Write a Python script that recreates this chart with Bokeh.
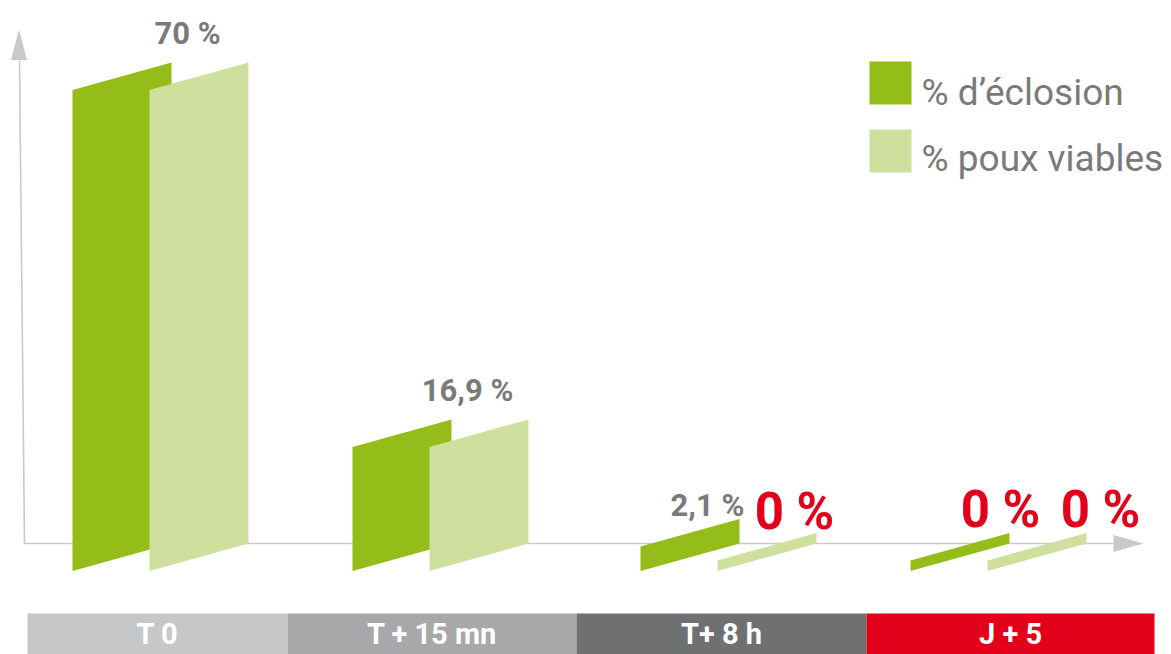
from bokeh.plotting import figure
from bokeh.models import Range1d, ColumnDataSource
from bokeh.core.properties import value
from bokeh.embed import file_html
from bokeh.resources import INLINE

# ---------------- data ----------------
categories = ["T 0", "T + 15 mn", "T+ 8 h", "J + 5"]
eclosion = [70.0, 16.9, 2.1, 0.0]      # % d'éclosion
viables = [70.0, 16.9, 0.0, 0.0]       # % poux viables
series_labels = ["% d\u2019\u00e9closion", "% poux viables"]

# ---------------- style / layout ----------------
W, H = 1171, 654
OX, OY = 0, 0
DARK = "#95bd1a"
LIGHT = "#cfe09e"
BAND_COLORS = ["#c6c7c9", "#a7a8aa", "#6f7072", "#e2001a"]
AXIS_COLOR = "#c8c9cb"
GRAY_TXT = "#7a7a7a"
RED = "#e2001a"
FONT = "Roboto"
DESC = 0.30                 # text placement correction (fraction of font size)

PX_PER_UNIT = 6.72          # pixels per percentage point
ZERO_Y = 560                # page y of value 0 at a bar's left edge
SHEAR = 27.5 / PX_PER_UNIT  # perspective slant of the bars
STUB = 10.5 / PX_PER_UNIT   # visible base under the value 0
BAR_W = 99
GROUP_X = [160, 440, 728, 998]
DARK_DX, LIGHT_DX = -88, -11
BAND_EDGES = [27, 287, 576, 866, 1154]
BAND_TOP = 613

LBL_SIZE, ZERO_SIZE, BAND_SIZE, LEG_SIZE = 31, 51, 29, 37

y_top = (ZERO_Y - OY) / PX_PER_UNIT
y_bot = (ZERO_Y - (OY + H)) / PX_PER_UNIT

p = figure(width=W, height=H, x_range=Range1d(OX, OX + W), y_range=Range1d(y_bot, y_top),
           output_backend="svg", toolbar_location=None, min_border=0,
           x_axis_location=None, y_axis_location=None,
           outline_line_color=None, background_fill_color="white", border_fill_color="white")
p.grid.visible = False
p.extra_y_ranges = {"px": Range1d(OY + H, OY)}

# bottom category bands
centers = [(a + b) / 2 for a, b in zip(BAND_EDGES[:-1], BAND_EDGES[1:])]
p.quad(left=BAND_EDGES[:-1], right=BAND_EDGES[1:], top=BAND_TOP, bottom=OY + H,
       fill_color=BAND_COLORS, line_color=None, y_range_name="px")
p.text(x=centers, y=[642 - DESC * BAND_SIZE] * 4, text=categories, y_range_name="px",
       text_font=value(FONT), text_font_style="bold", text_font_size=f"{BAND_SIZE}px",
       text_color="white", text_align="center", text_baseline="alphabetic")

# axes with arrow heads
ax0x, ax0y = 24, 543
p.line(x=[ax0x, 1113], y=[ax0y, ax0y], y_range_name="px", line_color=AXIS_COLOR, line_width=1.6)
p.line(x=[ax0x, 19], y=[ax0y, 60], y_range_name="px", line_color=AXIS_COLOR, line_width=1.6)
p.patches(xs=[[1143, 1113, 1113], [18.5, 10.5, 26.5]],
          ys=[[ax0y, ax0y - 8.5, ax0y + 8.5], [29, 59.5, 59.5]],
          fill_color=AXIS_COLOR, line_color=None, y_range_name="px")


def bar(x_left, v):
    return ([x_left, x_left, x_left + BAR_W, x_left + BAR_W],
            [-STUB, v, v + SHEAR, -STUB + SHEAR])


for vals, dx, col in ((eclosion, DARK_DX, DARK), (viables, LIGHT_DX, LIGHT)):
    xs, ys = [], []
    for g, v in zip(GROUP_X, vals):
        bx, by = bar(g + dx, v)
        xs.append(bx)
        ys.append(by)
    p.patches(xs=xs, ys=ys, fill_color=col, line_color=None)

# value labels
def fmt(v):
    return f"{v:g}".replace(".", ",") + " %"

COMBINED_OFF = (27, 20)
SINGLE_OFF = {(2, 0): (-32, 4), (2, 1): (-22, 6), (3, 0): (-9, 8), (3, 1): (14, 8)}
lx, ly, lt, lc, ls = [], [], [], [], []
for i, g in enumerate(GROUP_X):
    e, vb = eclosion[i], viables[i]
    if e == vb and e > 0:
        lx.append(g + COMBINED_OFF[0])
        ly.append(e + SHEAR + (COMBINED_OFF[1] + DESC * LBL_SIZE) / PX_PER_UNIT)
        lt.append(fmt(e))
        lc.append(GRAY_TXT)
        ls.append(f"{LBL_SIZE}px")
    else:
        for s, (v, dx) in enumerate(((e, DARK_DX), (vb, LIGHT_DX))):
            ox, oy = SINGLE_OFF.get((i, s), (-30, 6))
            size = ZERO_SIZE if v == 0 else LBL_SIZE
            lx.append(g + dx + BAR_W + ox)
            ly.append(v + SHEAR + (oy + DESC * size) / PX_PER_UNIT)
            lt.append(fmt(v))
            lc.append(RED if v == 0 else GRAY_TXT)
            ls.append(f"{size}px")

src = ColumnDataSource(dict(x=lx, y=ly, t=lt, c=lc, s=ls))
p.text(x="x", y="y", text="t", source=src, text_color="c", text_font_size="s",
       text_font=value(FONT), text_font_style="bold",
       text_align="center", text_baseline="alphabetic")

# legend
p.quad(left=[869, 869], right=[911, 911], top=[61, 129], bottom=[104, 172],
       fill_color=[DARK, LIGHT], line_color=None, y_range_name="px")
p.text(x=[921, 921], y=[103 - DESC * LEG_SIZE, 169 - DESC * LEG_SIZE], text=series_labels,
       y_range_name="px", text_font=value(FONT), text_font_size=f"{LEG_SIZE}px",
       text_color=GRAY_TXT, text_align="left", text_baseline="alphabetic")

open("out.html", "w").write(file_html(p, INLINE))
